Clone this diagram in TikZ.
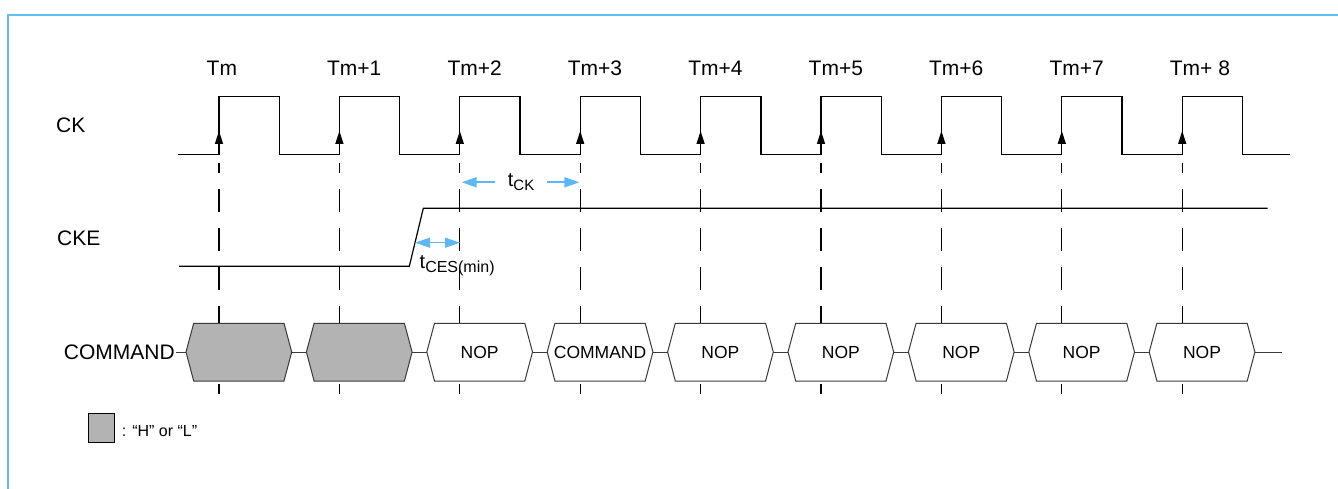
\documentclass[tikz,border=0pt]{standalone}
\usepackage{fontspec}
\setmainfont{Liberation Sans}
\usetikzlibrary{arrows.meta}
\newcommand{\fsz}[1]{\fontsize{#1}{#1}\selectfont}
\definecolor{framec}{HTML}{66BDF5}
\definecolor{tblue}{HTML}{5CB8F5}
\definecolor{hexgray}{HTML}{B3B3B3}
\definecolor{hexline}{HTML}{3A3A3A}
\tikzset{
  sig/.style={line width=1.3pt, black},
  guide/.style={line width=1.2pt, dash pattern=on 23pt off 16pt, dash phase=12.4pt},
  hexbox/.style={draw=hexline, line width=1pt, fill=white},
  hexfill/.style={draw=hexline, line width=1pt, fill=hexgray},
  lbl/.style={inner sep=0pt, font=\fsz{21}},
  intext/.style={inner sep=0pt, font=\fsz{17.5}},
  tarrow/.style={tblue, line width=2pt, -{Triangle[length=15pt,width=10pt]}},
}
\begin{document}
\begin{tikzpicture}[x=1pt,y=-1pt]
\useasboundingbox (0,0) rectangle (1338,489);
\draw[framec, line width=2.2pt] (8,489) -- (8,15) -- (1338,15);
\def\per{120.4}
% clock labels
\foreach \i/\t in {0/Tm,1/Tm+1,2/Tm+2,3/Tm+3,4/Tm+4,5/Tm+5,6/Tm+6,7/Tm+7,8/Tm+ 8}
  \node[lbl, anchor=base west] (T\i) at ({219+\i*\per-12.5},76) {\t};
% signal names
\node[lbl, anchor=west] (ck) at (56,125.5) {CK};
\node[lbl, anchor=west] (cke) at (57,238) {CKE};
\node[lbl, anchor=east] (cmd) at (175,352) {COMMAND};
% guide lines
\foreach \i in {0,...,8}
  \draw[guide] ({219+\i*\per},162.7) -- ({219+\i*\per},394);
% CK waveform
\draw[sig] (178,154.3) foreach \i in {0,...,8} { -- ({219+\i*\per},154.3) -- ({219+\i*\per},96.7) -- ({279.3+\i*\per},96.7) -- ({279.3+\i*\per},154.3) } -- (1290,154.3);
\foreach \i in {0,...,8}
  \fill ({219+\i*\per},131) -- ({219+\i*\per+4.2},144) -- ({219+\i*\per-4.2},144) -- cycle;
% CKE waveform
\draw[sig, line width=1.2pt] (179,266.3) -- (409.3,266.3) -- (423.3,208.3) -- (1267.7,208.3);
% tCK
\draw[tarrow] (495,182.3) -- (461.7,182.3);
\draw[tarrow] (546.7,182.3) -- (579.3,182.3);
\node[inner sep=0pt, anchor=base west, font=\fsz{20}] (tck) at (507.7,186.7) {t\raisebox{-3.5pt}{\fsz{15}CK}};
% tCES
\draw[tblue, line width=1pt, {Triangle[length=15pt,width=10pt]}-{Triangle[length=15pt,width=10pt]}] (415,242.7) -- (460,242.7);
\node[inner sep=0pt, anchor=base west, font=\fsz{20}] (tces) at (419.5,268.3) {t\raisebox{-4pt}{\fsz{16}CES(min)}};
% command bus
\draw[line width=1pt, hexline] (176,352) -- (186,352);
\foreach \i/\t/\s in {0//hexfill,1//hexfill,2/NOP/hexbox,3/COMMAND/hexbox,4/NOP/hexbox,5/NOP/hexbox,6/NOP/hexbox,7/NOP/hexbox,8/NOP/hexbox}{
  \pgfmathsetmacro{\L}{186+\i*\per}
  \draw[\s] (\L,352) -- ({\L+7.7},323.3) -- ({\L+98},323.3) -- ({\L+105.7},352) -- ({\L+98},381) -- ({\L+7.7},381) -- cycle;
  \node[intext] (h\i) at ({\L+52.85},352) {\t};
}
\foreach \i in {0,...,7}
  \draw[line width=1pt, hexline] ({186+\i*\per+105.7},352) -- ({186+(\i+1)*\per},352);
\draw[line width=1pt, hexline] ({186+8*\per+105.7},352) -- (1282,352);
% legend
\draw[fill=hexgray, line width=1.2pt] (88.3,413.3) rectangle (114.3,442.3);
\node[inner sep=0pt, anchor=base west, font=\fsz{16}] (leg) at (121.7,436) {: “H” or “L”};
\end{tikzpicture}
\end{document}
